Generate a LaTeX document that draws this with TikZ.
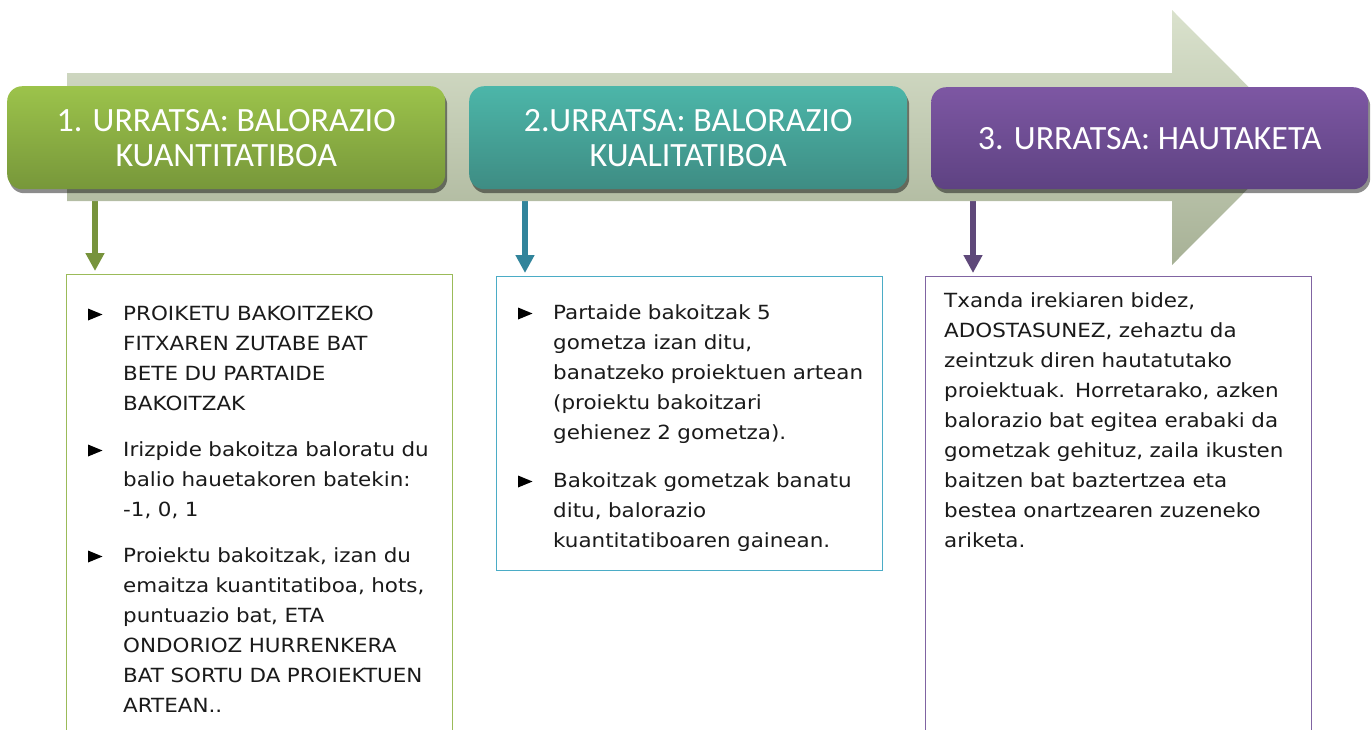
\documentclass[tikz,border=0pt]{standalone}
\usepackage{fontspec}
\setmainfont{DejaVu Sans}
\newfontfamily\headfont{Carlito}
\newfontfamily\bodyfont[FakeStretch=1.1]{DejaVu Sans}
\usetikzlibrary{arrows.meta,shadows}
\pgfdeclarelayer{bg}
\pgfsetlayers{bg,main}

\definecolor{grnTop}{HTML}{9CC34B}
\definecolor{grnBot}{HTML}{77973A}
\definecolor{tealTop}{HTML}{4CB6A9}
\definecolor{tealBot}{HTML}{3E8C83}
\definecolor{purTop}{HTML}{7D57A3}
\definecolor{purBot}{HTML}{5E4282}
\definecolor{arrTop}{HTML}{DAE2CD}
\definecolor{arrBot}{HTML}{A7B196}
\definecolor{grnLine}{HTML}{77933C}
\definecolor{tealLine}{HTML}{31849B}
\definecolor{purLine}{HTML}{5F497A}
\definecolor{grnBorder}{HTML}{9BBB59}
\definecolor{tealBorder}{HTML}{4BACC6}
\definecolor{purBorder}{HTML}{8064A2}
\definecolor{bodyink}{HTML}{1A1A1A}

% triangular bullet: x of left edge, baseline y of the line
\newcommand\tribullet[2]{\fill[bulletfill] (#1,#2-11.5) -- (#1+14.5,#2-5.5) -- (#1,#2+0.5) -- cycle;}

\begin{document}
\begin{tikzpicture}[x=1pt,y=-1pt,
  header/.style={rounded corners=15pt, minimum width=438pt, minimum height=103pt,
    anchor=north west, inner sep=0pt, text=white, align=center,
    font=\headfont\fontsize{34}{35}\selectfont,
    drop shadow={shadow xshift=2pt, shadow yshift=-4pt, fill=black, opacity=0.45}},
  contentbox/.style={draw, line width=1pt, anchor=north west, inner sep=0pt, fill=white},
  bodytext/.style={anchor=base west, inner sep=0pt, text width=400pt, align=left,
    font=\bodyfont\fontsize{19.5}{30}\selectfont, text=bodyink},
  bulletfill/.style={fill=black},
  downarrow/.style={line width=6pt, -{Triangle[width=18pt,length=18pt]}, shorten >=3pt}
]
\useasboundingbox (0,0) rectangle (1372,729);
\clip (0,0) rectangle (1372,729);

% big background arrow
\shade[top color=arrTop, bottom color=arrBot]
  (67,73) -- (1172,73) -- (1172,10) -- (1299,137.5) -- (1172,265) -- (1172,201) -- (67,201) -- cycle;

% content boxes
\node[contentbox, draw=grnBorder, minimum width=386pt, minimum height=480pt] (box1) at (66,274) {};
\node[contentbox, draw=tealBorder, minimum width=386pt, minimum height=294pt] (box2) at (496,276) {};
\node[contentbox, draw=purBorder, minimum width=386pt, minimum height=480pt] (box3) at (925,276) {};

% headers
\node[header, top color=grnTop, bottom color=grnBot] (hdr1) at (7,86) {1. URRATSA: BALORAZIO\\KUANTITATIBOA};
\node[header, top color=tealTop, bottom color=tealBot] (hdr2) at (469,86) {2.URRATSA: BALORAZIO\\KUALITATIBOA};
\node[header, top color=purTop, bottom color=purBot, minimum width=437pt, minimum height=102pt] (hdr3) at (931,87) {3. URRATSA: HAUTAKETA};

% arrow columns
\coordinate (a1) at (95,0);
\coordinate (a2) at (525,0);
\coordinate (a3) at (973,0);
\begin{pgfonlayer}{bg}
\draw[downarrow, draw=grnLine] (hdr1.south -| a1) -- (box1.north -| a1);
\draw[downarrow, draw=tealLine] (hdr2.south -| a2) -- (box2.north -| a2);
\draw[downarrow, draw=purLine] (hdr3.south -| a3) -- (box3.north -| a3);
\end{pgfonlayer}

% box 1 text
\tribullet{88}{320}
\node[bodytext] (t11) at (123,320) {PROIKETU BAKOITZEKO\\FITXAREN ZUTABE BAT\\BETE DU PARTAIDE\\BAKOITZAK};
\tribullet{88}{456}
\node[bodytext] (t12) at (123,456) {Irizpide bakoitza baloratu du\\balio hauetakoren batekin:\\-1, 0, 1};
\tribullet{88}{562}
\node[bodytext] (t13) at (123,562) {Proiektu bakoitzak, izan du\\emaitza kuantitatiboa, hots,\\puntuazio bat, ETA\\ONDORIOZ HURRENKERA\\BAT SORTU DA PROIEKTUEN\\ARTEAN..};

% box 2 text
\tribullet{518}{319}
\node[bodytext] (t21) at (553,319) {Partaide bakoitzak 5\\gometza izan ditu,\\banatzeko proiektuen artean\\(proiektu bakoitzari\\gehienez 2 gometza).};
\tribullet{518}{487}
\node[bodytext] (t22) at (553,487) {Bakoitzak gometzak banatu\\ditu, balorazio\\kuantitatiboaren gainean.};

% box 3 text
\node[bodytext] (t31) at (944,307) {Txanda irekiaren bidez,\\ADOSTASUNEZ, zehaztu da\\zeintzuk diren hautatutako\\proiektuak. Horretarako, azken\\balorazio bat egitea erabaki da\\gometzak gehituz, zaila ikusten\\baitzen bat baztertzea eta\\bestea onartzearen zuzeneko\\ariketa.};
\end{tikzpicture}
\end{document}
